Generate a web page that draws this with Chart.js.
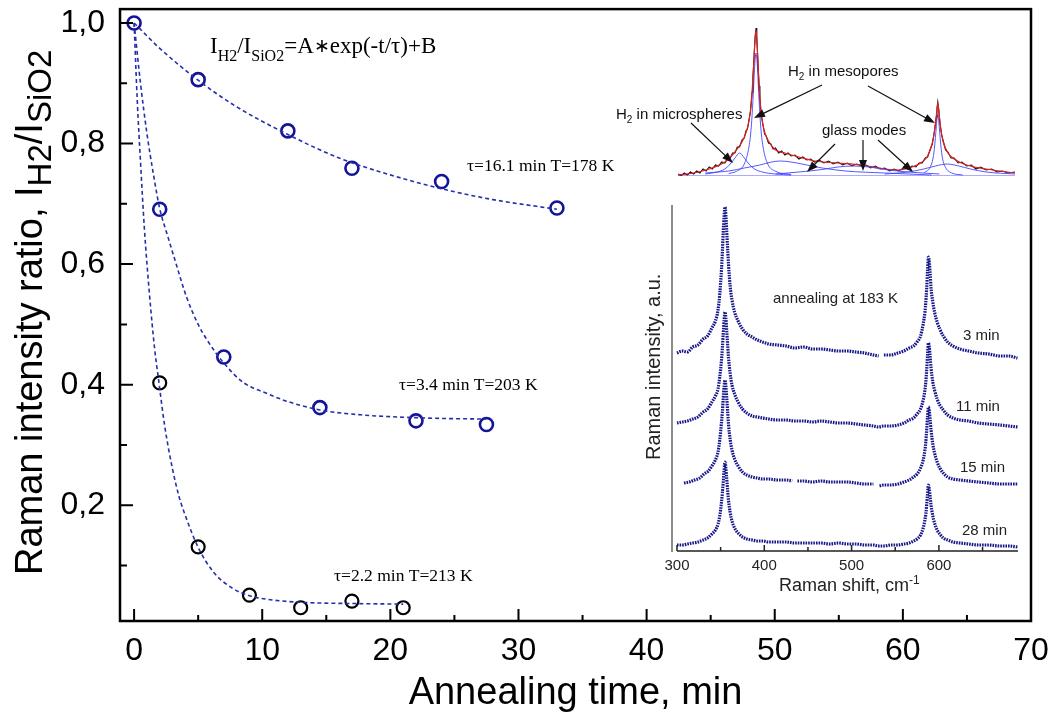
<!DOCTYPE html>
<html lang="en">
<head>
  <meta charset="UTF-8">
  <title>H2 annealing</title>
  <script src="https://cdn.jsdelivr.net/npm/chart.js"></script>
  <style>
    body { margin: 0; background: #fff; }
    #wrap { position: relative; width: 1055px; height: 714px; }
    canvas { position: absolute; }
    #main { left: 0; top: 0; }
    #top { left: 600px; top: 0; }
    #spec { left: 630px; top: 190px; }
  </style>
</head>
<body>
  <div id="wrap">
    <canvas id="main" width="1055" height="714"></canvas>
    <canvas id="top" width="455" height="190"></canvas>
    <canvas id="spec" width="425" height="410"></canvas>
  </div>

  <script>
    const SANS = "'Liberation Sans', Arial, sans-serif";
    const SERIF = "'Liberation Serif', 'Times New Roman', serif";

    // ---- main plot: measured ratio vs annealing time ----
    const t178 = [0, 5, 12, 17, 24, 33];
    const r178 = [1.0, 0.906, 0.821, 0.759, 0.737, 0.693];
    const t203 = [2, 7, 14.5, 22, 27.5];
    const r203 = [0.691, 0.446, 0.362, 0.340, 0.334];
    const t213 = [2, 5, 9, 13, 17, 21];
    const r213 = [0.403, 0.131, 0.051, 0.030, 0.041, 0.030];

    // fitted curves
    const fitT178 = [0, 2, 5, 8, 12, 16, 20, 24, 28, 33];
    const fitR178 = [1.0, 0.958, 0.905, 0.861, 0.815, 0.776, 0.748, 0.725, 0.707, 0.691];
    const fitT203 = [0, 0.5, 1, 1.5, 2, 2.6, 3.2, 4.1, 5, 5.7, 7, 8.5, 10.4, 12, 14.5, 17.7, 21, 24, 27.5];
    const fitR203 = [1.0, 0.9, 0.817, 0.75, 0.692, 0.648, 0.606, 0.545, 0.5, 0.474, 0.436, 0.404, 0.385, 0.372, 0.358, 0.35, 0.346, 0.344, 0.343];
    const fitT213 = [0, 0.25, 0.5, 0.8, 1.2, 1.6, 1.9, 2.4, 3, 3.5, 4.1, 5, 6.2, 7.7, 9, 10.4, 13, 17, 21];
    const fitR213 = [1.0, 0.87, 0.77, 0.66, 0.55, 0.46, 0.41, 0.33, 0.26, 0.215, 0.177, 0.13, 0.089, 0.062, 0.05, 0.044, 0.039, 0.037, 0.036];

    const xTicks = [0, 10, 20, 30, 40, 50, 60, 70];
    const xMinor = [5, 15, 25, 35, 45, 55, 65];
    const yTicks = [0.2, 0.4, 0.6, 0.8, 1.0];
    const yMinor = [0.1, 0.3, 0.5, 0.7, 0.9];

    // ---- top inset: decomposed spectrum ----
    const rawShift = [255,259,263,267,271,275,279,283,287,291,295,299,303,307,311,315,319,322,325,328,331,334,337,340,342,344,346,348,349,350,351,352,353,354,355,356,357,358,359,360,361,362,364,366,368,371,374,377,380,384,388,392,396,400,405,410,415,420,425,430,436,442,448,454,460,466,472,478,484,490,496,502,508,514,520,526,532,538,544,550,555,560,564,568,572,575,578,581,583,585,586,587,588,589,590,591,593,595,598,601,605,609,614,619,625,631,637,643,650,657,664,671,678,687];
    const rawInt = [2,0,3,1,4,2,5,3,7,5,9,7,11,10,14,13,18,18,23,23,29,29,36,38,45,47,56,65,75,84,98,112,127,140,148,138,122,105,90,78,68,60,51,42,40,33,32,27,28,23,25,21,23,20,21,17,19,16,17,14,16,13,15,12,14,11,13,10,12,10,11,8,10,7,8,5,7,5,8,7,10,9,13,13,18,19,26,32,41,52,59,67,74,68,60,52,41,35,26,24,18,18,13,14,10,11,7,9,6,7,4,5,3,4];
    const fitShift = [255,275,295,315,328,337,342,346,349,351,352,353,354,355,356,357,358,359,360,362,366,371,380,392,410,430,460,490,520,538,555,568,575,581,584,586,587,588,589,590,592,595,601,609,625,650,687];
    const fitInt = [1,3,7,14,24,34,43,55,74,97,111,126,139,146,138,122,105,90,78,60,44,35,26,23,19,15,13,11,7,6,9,14,20,33,46,59,67,73,68,60,46,34,23,17,11,7,3];
    const meso1Shift = [320,330,340,345,348,350,352,353,354,355,356,357,358,360,362,365,370,380,400];
    const meso1Int = [2.5,4.7,12,25,41,61,90,106,118,123,118,106,90,61,41,25,12,4.7,1.5];
    const microShift = [290,305,315,322,328,334,340,346,353,363,380,400];
    const microInt = [2,4,7,12,18,23,18,12,7,4,2,1];
    const glass1Shift = [290,320,340,360,375,386,400,420,440,470,520,580];
    const glass1Int = [3,5,8,11,14,15,14,11,8,5,3,1];
    const glass2Shift = [380,410,440,460,480,500,520,550,590];
    const glass2Int = [2,4,6.5,9,10,9,6.5,4,2];
    const glass3Shift = [520,550,570,585,600,615,630,650,687];
    const glass3Int = [2,4,7,10,12,10,7,4,2];
    const meso2Shift = [570,578,582,584,586,587,588,589,590,592,594,598,606,620];
    const meso2Int = [3,8.5,18,30,48,57,61,57,48,30,18,8.5,3,1];
    const baseShift = [255, 687];
    const baseInt = [0, 0];

    // ---- lower inset: spectra after annealing at 183 K ----
    const shift3 = [300,306,312,318,324,330,335,340,344,347,349,351,352,353,354,355,356,357,358,359,361,363,366,370,375,380,386,392,398,405,415,425,435,445,455,465,475,485,495,505,515,525,531,533,537,545,553,560,566,571,575,579,582,584,585,586,587,588,589,590,591,593,595,598,601,605,610,616,624,634,645,657,670,680,690];
    const int3 = [197,199,198,203,205,211,214,222,229,240,256,281,298,318,334,343,335,318,302,286,263,250,238,229,221,216,213,210,208,206,205,204,202,203,201,201,200,199,199,198,197,195,194,null,195,195,197,199,202,204,208,214,226,238,248,262,280,293,288,276,262,248,238,228,221,214,208,204,201,199,197,196,194,194,192];
    const shift11 = [300,306,312,318,324,330,335,340,344,347,349,351,352,353,354,355,356,357,358,359,361,363,366,370,375,380,386,392,398,405,415,425,435,445,455,465,475,485,495,505,515,525,531,537,545,553,560,566,571,575,579,582,584,585,586,587,588,589,590,591,593,595,598,601,605,610,616,624,634,645,657,670,680,690];
    const int11 = [127,128,129,131,133,138,141,148,154,161,173,190,202,217,230,238,232,219,206,193,176,165,156,148,141,137,134,133,132,131,130,130,129,129,128,129,128,127,127,126,125,124,123,124,124,125,127,130,132,136,141,150,160,168,180,195,207,203,193,182,168,160,151,145,140,135,132,130,129,127,126,125,124,123];
    const shift15 = [308,314,320,326,331,336,340,344,347,349,351,352,353,354,355,356,357,358,359,361,363,366,370,375,380,386,392,398,405,415,425,432,434,438,445,455,465,475,485,495,505,515,525,529,532,537,545,553,560,566,571,575,579,582,584,585,586,587,588,589,590,591,593,595,598,601,605,610,616,624,634,645,657,670,680,690];
    const int15 = [67,68,70,72,76,79,84,90,98,110,128,138,152,164,170,164,152,139,126,110,100,91,84,78,75,73,72,71,71,70,70,69,null,69,69,68,69,68,68,68,67,66,66,null,64,65,65,66,68,70,73,76,82,90,100,108,120,133,143,139,130,120,106,97,88,82,77,73,71,70,69,68,67,66,66,66];
    const shift28 = [300,306,312,318,324,330,335,340,344,347,349,351,352,353,354,355,356,357,358,359,361,363,366,370,375,380,386,392,398,405,415,425,435,445,455,465,475,485,495,505,515,525,531,537,545,553,560,566,571,575,579,582,584,585,586,587,588,589,590,591,593,595,598,601,605,610,616,624,634,645,657,670,680,690];
    const int28 = [5,5,6,7,8,10,12,16,20,26,34,48,57,68,80,88,82,71,60,50,37,29,22,17,13,11,10,9,9,8,8,8,7,7,7,7,6,7,6,6,5,5,4,4,5,5,6,7,9,11,15,22,30,36,45,56,65,61,53,45,34,27,20,16,12,10,8,7,6,5,5,4,4,3];
    const specMajor = [300, 400, 500, 600];
    const specMinor = [350, 450, 550, 650];
    const specLabels = [
      { text: '3 min', x: 333, y: 150 },
      { text: '11 min', x: 326, y: 221 },
      { text: '15 min', x: 330, y: 282 },
      { text: '28 min', x: 332, y: 345 }
    ];

    function toXY(xs, ys) {
      return xs.map((x, i) => ({ x: x, y: ys[i] }));
    }

    // draw a run of text pieces, each with its own font and baseline shift
    function drawRich(ctx, parts, x, y) {
      let cx = x;
      parts.forEach(p => {
        ctx.font = p.font;
        ctx.fillText(p.text, cx, y + (p.dy || 0));
        cx += ctx.measureText(p.text).width;
      });
    }

    function arrow(ctx, x1, y1, x2, y2) {
      const a = Math.atan2(y2 - y1, x2 - x1);
      const len = 11, w = 4;
      ctx.beginPath();
      ctx.moveTo(x1, y1);
      ctx.lineTo(x2 - len * Math.cos(a) * 0.8, y2 - len * Math.sin(a) * 0.8);
      ctx.stroke();
      ctx.beginPath();
      ctx.moveTo(x2, y2);
      ctx.lineTo(x2 - len * Math.cos(a) + w * Math.sin(a), y2 - len * Math.sin(a) - w * Math.cos(a));
      ctx.lineTo(x2 - len * Math.cos(a) - w * Math.sin(a), y2 - len * Math.sin(a) + w * Math.cos(a));
      ctx.closePath();
      ctx.fill();
    }

    const NAVY = '#14149a';
    const DASH = '#2530a8';

    // frame, inward ticks, titles and notes of the main plot
    const mainDeco = {
      id: 'mainDeco',
      afterDraw(chart) {
        const { ctx, chartArea: a, scales: { x, y } } = chart;
        ctx.save();
        ctx.strokeStyle = '#000';
        ctx.lineWidth = 2.5;
        ctx.strokeRect(a.left, a.top, a.right - a.left, a.bottom - a.top);
        ctx.lineWidth = 2;
        ctx.beginPath();
        xTicks.forEach(v => { const p = x.getPixelForValue(v); ctx.moveTo(p, a.bottom); ctx.lineTo(p, a.bottom - 12); });
        xMinor.forEach(v => { const p = x.getPixelForValue(v); ctx.moveTo(p, a.bottom); ctx.lineTo(p, a.bottom - 6); });
        yTicks.forEach(v => { const p = y.getPixelForValue(v); ctx.moveTo(a.left, p); ctx.lineTo(a.left + 13, p); });
        yMinor.forEach(v => { const p = y.getPixelForValue(v); ctx.moveTo(a.left, p); ctx.lineTo(a.left + 7, p); });
        ctx.stroke();

        ctx.fillStyle = '#000';
        ctx.textBaseline = 'alphabetic';
        // x title
        ctx.font = '38px ' + SANS;
        ctx.textAlign = 'center';
        ctx.fillText('Annealing time, min', (a.left + a.right) / 2, 704);
        ctx.textAlign = 'left';
        // y title
        ctx.save();
        ctx.translate(42, 575);
        ctx.rotate(-Math.PI / 2);
        drawRich(ctx, [
          { text: 'Raman intensity ratio, I', font: '38px ' + SANS },
          { text: 'H2', font: '33px ' + SANS, dy: 9 },
          { text: '/I', font: '38px ' + SANS },
          { text: 'SiO2', font: '33px ' + SANS, dy: 9 }
        ], 0, 0);
        ctx.restore();

        // fit formula
        drawRich(ctx, [
          { text: 'I', font: '23px ' + SERIF },
          { text: 'H2', font: '16px ' + SERIF, dy: 8 },
          { text: '/I', font: '23px ' + SERIF },
          { text: 'SiO2', font: '16px ' + SERIF, dy: 8 },
          { text: '=A', font: '23px ' + SERIF },
          { text: '\u2217', font: '19px ' + SERIF, dy: -1 },
          { text: 'exp(-t/\u03c4)+B', font: '23px ' + SERIF }
        ], 210, 53);
        ctx.font = '17.5px ' + SERIF;
        ctx.fillText('\u03c4=16.1 min T=178 K', 467, 171);
        ctx.fillText('\u03c4=3.4 min T=203 K', 399, 390);
        ctx.fillText('\u03c4=2.2 min T=213 K', 334, 581);
        ctx.restore();
      }
    };

    const lineSet = (xs, ys) => ({
      data: toXY(xs, ys), showLine: true, borderColor: DASH, borderWidth: 1.6,
      borderDash: [4, 3], pointRadius: 0, fill: false, cubicInterpolationMode: 'monotone'
    });
    const markSet = (xs, ys, col, w) => ({
      data: toXY(xs, ys), showLine: false, pointRadius: 6.5, pointStyle: 'circle',
      borderColor: col, borderWidth: w, backgroundColor: 'rgba(0,0,0,0)'
    });

    new Chart(document.getElementById('main'), {
      type: 'scatter',
      data: {
        datasets: [
          lineSet(fitT178, fitR178),
          lineSet(fitT203, fitR203),
          lineSet(fitT213, fitR213),
          markSet(t178, r178, NAVY, 2.6),
          markSet(t203, r203, NAVY, 2.6),
          markSet(t213, r213, '#000', 2.2)
        ]
      },
      options: {
        responsive: false,
        animation: false,
        layout: { padding: { top: 8, right: 24, left: 0, bottom: 0 } },
        plugins: { legend: { display: false }, tooltip: { enabled: false } },
        scales: {
          x: {
            type: 'linear', min: -1.1, max: 70,
            grid: { display: false, drawTicks: false }, border: { display: false },
            ticks: { color: '#000', font: { family: SANS, size: 32 }, padding: 11 },
            afterBuildTicks: s => { s.ticks = xTicks.map(v => ({ value: v })); },
            afterFit: s => { s.height = 93; s.paddingLeft = 0; s.paddingRight = 0; }
          },
          y: {
            type: 'linear', min: 0.008, max: 1.023,
            grid: { display: false, drawTicks: false }, border: { display: false },
            ticks: {
              color: '#000', font: { family: SANS, size: 32 }, padding: 15,
              callback: v => v.toFixed(1).replace('.', ',')
            },
            afterBuildTicks: s => { s.ticks = yTicks.map(v => ({ value: v })); },
            afterFit: s => { s.width = 120; s.paddingTop = 0; s.paddingBottom = 0; }
          }
        }
      },
      plugins: [mainDeco]
    });

    // ---- top inset ----
    const topDeco = {
      id: 'topDeco',
      afterDraw(chart) {
        const ctx = chart.ctx;
        ctx.save();
        ctx.fillStyle = '#111';
        ctx.strokeStyle = '#111';
        ctx.lineWidth = 1.2;
        ctx.textBaseline = 'alphabetic';
        const h2 = (x, y, rest) => drawRich(ctx, [
          { text: 'H', font: '15px ' + SANS },
          { text: '2', font: '10px ' + SANS, dy: 4 },
          { text: rest, font: '15px ' + SANS }
        ], x, y);
        h2(16, 119, ' in microspheres');
        h2(188, 76, ' in mesopores');
        ctx.font = '15px ' + SANS;
        ctx.fillText('glass modes', 222, 135);
        arrow(ctx, 91, 123, 133, 163);
        arrow(ctx, 222, 85, 154, 118);
        arrow(ctx, 268, 86, 335, 123);
        arrow(ctx, 235, 144, 207, 172);
        arrow(ctx, 263, 140, 263, 171);
        arrow(ctx, 278, 140, 313, 172);
        ctx.restore();
      }
    };
    const blue = (xs, ys) => ({
      data: toXY(xs, ys), showLine: true, borderColor: 'rgba(70,70,255,0.9)', borderWidth: 1,
      pointRadius: 0, cubicInterpolationMode: 'monotone'
    });

    new Chart(document.getElementById('top'), {
      type: 'scatter',
      data: {
        datasets: [
          blue(baseShift, baseInt),
          blue(microShift, microInt),
          blue(glass1Shift, glass1Int),
          blue(glass2Shift, glass2Int),
          blue(glass3Shift, glass3Int),
          { data: toXY(fitShift, fitInt), showLine: true, borderColor: '#e02020', borderWidth: 1.2, pointRadius: 0, cubicInterpolationMode: 'monotone' },
          { data: toXY(rawShift, rawInt), showLine: true, borderColor: '#111', borderWidth: 1.1, pointRadius: 0 },
          blue(meso1Shift, meso1Int),
          blue(meso2Shift, meso2Int)
        ]
      },
      options: {
        responsive: false,
        animation: false,
        layout: { padding: { left: 78, right: 40, top: 26, bottom: 14 } },
        plugins: { legend: { display: false }, tooltip: { enabled: false } },
        scales: {
          x: { type: 'linear', min: 255, max: 687, display: false },
          y: { type: 'linear', min: 0, max: 150, display: false }
        }
      },
      plugins: [topDeco]
    });

    // ---- lower inset ----
    const specDeco = {
      id: 'specDeco',
      afterDraw(chart) {
        const { ctx, chartArea: a, scales: { x } } = chart;
        ctx.save();
        ctx.strokeStyle = '#666';
        ctx.lineWidth = 1.5;
        ctx.beginPath();
        ctx.moveTo(a.left, a.top);
        ctx.lineTo(a.left, a.bottom + 2);
        ctx.stroke();
        ctx.strokeStyle = '#222';
        ctx.beginPath();
        ctx.moveTo(x.getPixelForValue(300), a.bottom + 1);
        ctx.lineTo(a.right, a.bottom + 1);
        specMajor.forEach(v => { const p = x.getPixelForValue(v); ctx.moveTo(p, a.bottom + 1); ctx.lineTo(p, a.bottom - 5); });
        specMinor.forEach(v => { const p = x.getPixelForValue(v); ctx.moveTo(p, a.bottom + 1); ctx.lineTo(p, a.bottom - 3); });
        ctx.stroke();

        ctx.fillStyle = '#222';
        ctx.font = '15px ' + SANS;
        ctx.textAlign = 'center';
        ctx.textBaseline = 'middle';
        specMajor.forEach(v => ctx.fillText(String(v), x.getPixelForValue(v), 376));
        ctx.textAlign = 'left';
        ctx.textBaseline = 'alphabetic';
        ctx.fillText('annealing at 183 K', 143, 113);
        specLabels.forEach(l => ctx.fillText(l.text, l.x, l.y));
        drawRich(ctx, [
          { text: 'Raman shift, cm', font: '18px ' + SANS },
          { text: '-1', font: '12px ' + SANS, dy: -7 }
        ], 149, 401);
        ctx.save();
        ctx.translate(30, 270);
        ctx.rotate(-Math.PI / 2);
        ctx.font = '20px ' + SANS;
        ctx.fillText('Raman intensity, a.u.', 0, 0);
        ctx.restore();
        ctx.restore();
      }
    };
    const spec = (xs, ys) => ({
      data: toXY(xs, ys), showLine: true, borderColor: '#16168a', borderWidth: 3.2,
      borderDash: [1.6, 1], pointRadius: 0, spanGaps: false, cubicInterpolationMode: 'monotone'
    });

    new Chart(document.getElementById('spec'), {
      type: 'scatter',
      data: {
        datasets: [spec(shift3, int3), spec(shift11, int11), spec(shift15, int15), spec(shift28, int28)]
      },
      options: {
        responsive: false,
        animation: false,
        layout: { padding: { left: 42, right: 37, top: 15, bottom: 50 } },
        plugins: { legend: { display: false }, tooltip: { enabled: false } },
        scales: {
          x: { type: 'linear', min: 294.3, max: 690.6, display: false },
          y: { type: 'linear', min: 0, max: 345, display: false }
        }
      },
      plugins: [specDeco]
    });
  </script>
</body>
</html>
